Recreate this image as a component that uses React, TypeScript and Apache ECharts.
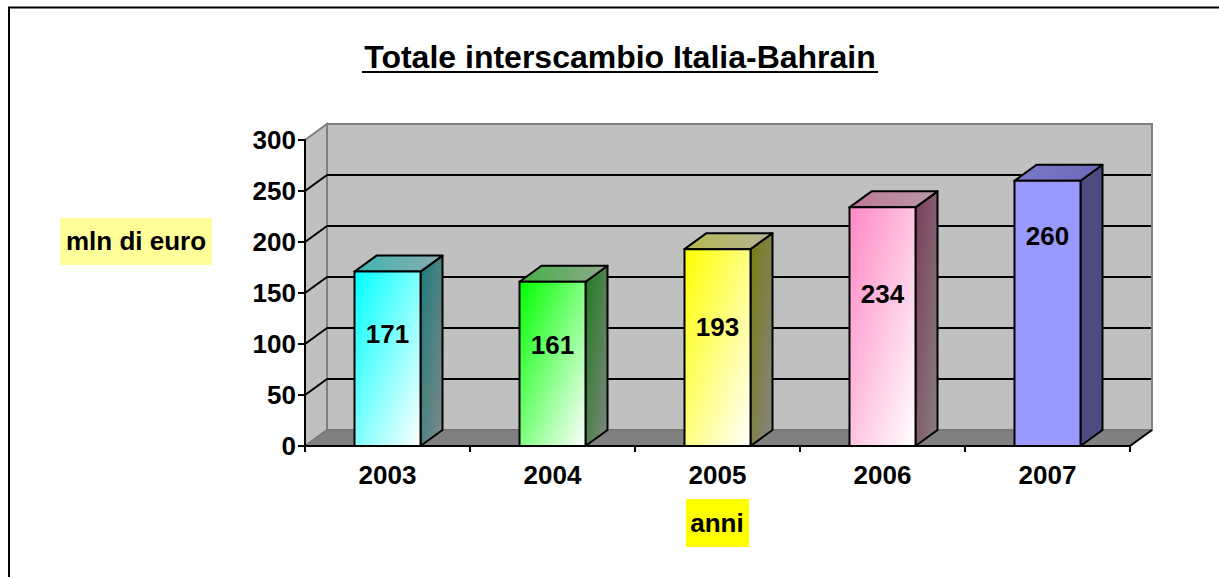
import React, { useEffect, useRef } from "react";
import * as echarts from "echarts";

// ---- data ----
const years: string[] = ["2003", "2004", "2005", "2006", "2007"];
const values: number[] = [171, 161, 193, 234, 260];
const yTicks: number[] = [0, 50, 100, 150, 200, 250, 300];
const titleText = "Totale interscambio Italia-Bahrain";
const yAxisTitle = "mln di euro";
const xAxisTitle = "anni";

// ---- styles ----
const FONT = "'Liberation Sans', Arial, Helvetica, sans-serif";
const DX = 22;
const DY = -16;
type Face = { front: string[]; top: string[]; side: string[] };
const faces: Face[] = [
  { front: ["#00FFFF", "#FFFFFF"], top: ["#3cb4b4", "#8cacac"], side: ["#1c7c7c", "#808888"] },
  { front: ["#00FF00", "#FFFFFF"], top: ["#44b044", "#90a890"], side: ["#1f7a1f", "#7e887e"] },
  { front: ["#FFFF00", "#FFFFFF"], top: ["#b8b850", "#b4b494"], side: ["#7c7c10", "#848484"] },
  { front: ["#FF88C4", "#FFFFFF"], top: ["#c07898", "#b898a8"], side: ["#7c3c5c", "#888080"] },
  { front: ["#9999FF", "#9999FF"], top: ["#7a7ac8", "#6a6ab8"], side: ["#4c4c80", "#4c4c80"] },
];
const labelFrac: number[] = [0.64, 0.615, 0.605, 0.637, 0.79];

const grad = (c: string[], x2: number, y2: number) => ({
  type: "linear",
  x: 0,
  y: 0,
  x2,
  y2,
  colorStops: [
    { offset: 0, color: c[0] },
    { offset: 1, color: c[1] },
  ],
});

export default function App() {
  const ref = useRef<HTMLDivElement>(null);
  useEffect(() => {
    if (!ref.current) return;
    const chart = echarts.init(ref.current, undefined, { renderer: "svg" });
    const option: any = {
      animation: false,
      backgroundColor: "#ffffff",
      grid: { left: 305, top: 140, width: 825, height: 306, containLabel: false },
      xAxis: {
        type: "category",
        data: years,
        boundaryGap: true,
        z: 10,
        axisLine: { show: true, lineStyle: { color: "#000", width: 2 } },
        axisTick: { show: true, length: 6, lineStyle: { color: "#000", width: 2 } },
        axisLabel: { fontSize: 26, fontWeight: "bold", color: "#000", fontFamily: FONT, margin: 16 },
        splitLine: { show: false },
      },
      yAxis: {
        type: "value",
        min: 0,
        max: 300,
        interval: 50,
        z: 10,
        axisLine: { show: true, lineStyle: { color: "#000", width: 2 } },
        axisTick: { show: true, length: 7, lineStyle: { color: "#000", width: 2 } },
        axisLabel: { fontSize: 26, fontWeight: "bold", color: "#000", fontFamily: FONT, margin: 9 },
        splitLine: { show: false },
      },
      series: [
        {
          type: "custom",
          name: "frame",
          z: 1,
          clip: false,
          silent: true,
          data: [[0, 0]],
          encode: { x: 0, y: 1 },
          renderItem: (params: any, api: any) => {
            const cs = params.coordSys;
            const x0 = cs.x;
            const x1 = cs.x + cs.width;
            const yTop = cs.y;
            const yBot = cs.y + cs.height;
            const children: any[] = [];
            children.push({
              type: "rect",
              shape: { x: x0 + DX, y: yTop + DY, width: cs.width, height: cs.height },
              style: { fill: "#c0c0c0", stroke: "#808080", lineWidth: 2 },
            });
            children.push({
              type: "polygon",
              shape: { points: [[x0, yBot], [x0 + DX, yBot + DY], [x0 + DX, yTop + DY], [x0, yTop]] },
              style: { fill: "#c0c0c0", stroke: "#808080", lineWidth: 2 },
            });
            children.push({
              type: "polygon",
              shape: { points: [[x0, yBot], [x1, yBot], [x1 + DX, yBot + DY], [x0 + DX, yBot + DY]] },
              style: { fill: "#808080", stroke: "#707070", lineWidth: 1 },
            });
            yTicks.forEach((v) => {
              if (v === yTicks[0] || v === yTicks[yTicks.length - 1]) return;
              const y = api.coord([0, v])[1];
              children.push({
                type: "line",
                shape: { x1: x0 + DX, y1: y + DY, x2: x1 + DX - 1, y2: y + DY },
                style: { stroke: "#000", lineWidth: 2 },
              });
              children.push({
                type: "line",
                shape: { x1: x0, y1: y, x2: x0 + DX, y2: y + DY },
                style: { stroke: "#000", lineWidth: 2 },
              });
            });
            children.push({
              type: "line",
              shape: { x1: x1, y1: yBot, x2: x1 + DX, y2: yBot + DY },
              style: { stroke: "#000", lineWidth: 2 },
            });
            return { type: "group", children };
          },
        },
        {
          type: "custom",
          name: "interscambio",
          z: 3,
          clip: false,
          data: values.map((v, i) => [i, v]),
          encode: { x: 0, y: 1 },
          renderItem: (params: any, api: any) => {
            const idx = params.dataIndex;
            const i = api.value(0);
            const v = api.value(1);
            const top = api.coord([i, v]);
            const base = api.coord([i, 0]);
            const w = api.size([1, 0])[0] * 0.4;
            const xl = top[0] - w / 2;
            const xr = top[0] + w / 2;
            const yt = top[1];
            const yb = base[1];
            const f = faces[idx];
            const labY = api.coord([i, v * labelFrac[idx]])[1];
            return {
              type: "group",
              children: [
                {
                  type: "polygon",
                  shape: { points: [[xr, yt], [xr + DX, yt + DY], [xr + DX, yb + DY], [xr, yb]] },
                  style: { fill: grad(f.side, 1, 1), stroke: "#000", lineWidth: 2, lineJoin: "round" },
                },
                {
                  type: "polygon",
                  shape: { points: [[xl, yt], [xl + DX, yt + DY], [xr + DX, yt + DY], [xr, yt]] },
                  style: { fill: grad(f.top, 1, 0), stroke: "#000", lineWidth: 2, lineJoin: "round" },
                },
                {
                  type: "rect",
                  shape: { x: xl, y: yt, width: w, height: yb - yt },
                  style: { fill: grad(f.front, 1, 1), stroke: "#000", lineWidth: 2 },
                },
                {
                  type: "text",
                  x: top[0],
                  y: labY,
                  style: {
                    text: String(v),
                    font: `bold 26px ${FONT}`,
                    fill: "#000",
                    align: "center",
                    verticalAlign: "middle",
                  },
                },
              ],
            };
          },
        },
      ],
      graphic: [
        { type: "line", shape: { x1: 8, y1: 7.5, x2: 1219, y2: 7.5 }, style: { stroke: "#000", lineWidth: 2 } },
        { type: "line", shape: { x1: 9, y1: 7, x2: 9, y2: 577 }, style: { stroke: "#000", lineWidth: 2 } },
        {
          type: "text",
          x: 620,
          y: 57,
          style: {
            text: titleText,
            font: `bold 32px ${FONT}`,
            fill: "#000",
            align: "center",
            verticalAlign: "middle",
          },
        },
        { type: "line", shape: { x1: 362, y1: 72, x2: 878, y2: 72 }, style: { stroke: "#000", lineWidth: 2 } },
        { type: "rect", shape: { x: 60, y: 218, width: 152, height: 47 }, style: { fill: "#FFFF99" } },
        {
          type: "text",
          x: 136,
          y: 241,
          style: {
            text: yAxisTitle,
            font: `bold 26px ${FONT}`,
            fill: "#000",
            align: "center",
            verticalAlign: "middle",
          },
        },
        { type: "rect", shape: { x: 686, y: 499, width: 63, height: 48 }, style: { fill: "#FFFF00" } },
        {
          type: "text",
          x: 717,
          y: 523,
          style: {
            text: xAxisTitle,
            font: `bold 26px ${FONT}`,
            fill: "#000",
            align: "center",
            verticalAlign: "middle",
          },
        },
      ],
    };
    chart.setOption(option);
    return () => chart.dispose();
  }, []);
  return (
    <div
      ref={ref}
      style={{ position: "fixed", left: 0, top: 0, width: 1219, height: 577 }}
    />
  );
}
